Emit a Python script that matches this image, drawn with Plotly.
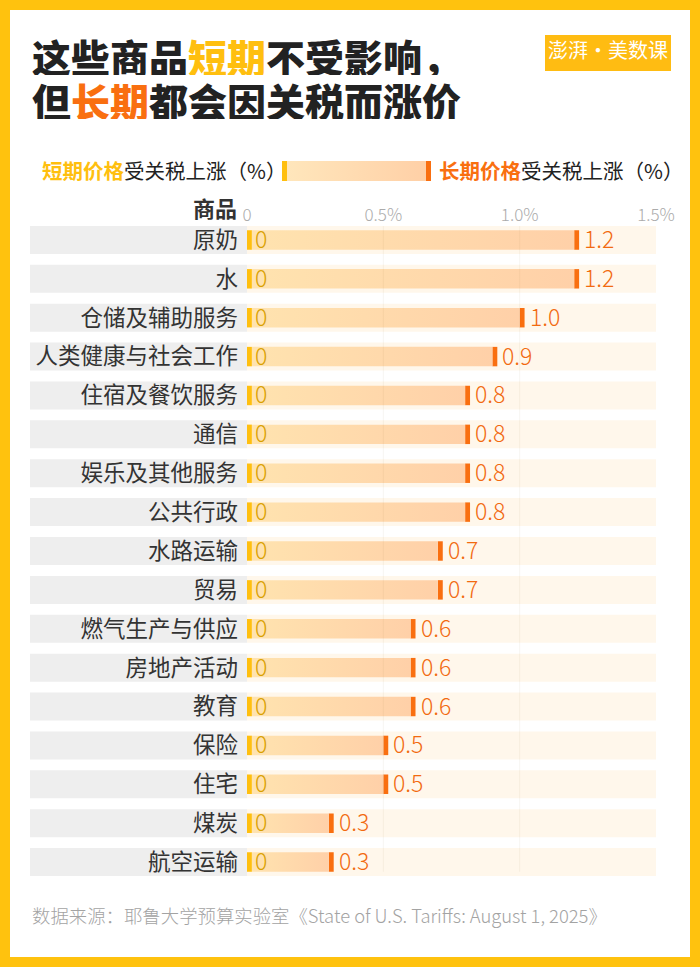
import plotly.graph_objects as go

categories = ["原奶", "水", "仓储及辅助服务", "人类健康与社会工作", "住宿及餐饮服务", "通信", "娱乐及其他服务",
              "公共行政", "水路运输", "贸易", "燃气生产与供应", "房地产活动", "教育", "保险", "住宅", "煤炭", "航空运输"]
short_vals = [0, 0, 0, 0, 0, 0, 0, 0, 0, 0, 0, 0, 0, 0, 0, 0, 0]
long_vals = [1.2, 1.2, 1.0, 0.9, 0.8, 0.8, 0.8, 0.8, 0.7, 0.7, 0.6, 0.6, 0.6, 0.5, 0.5, 0.3, 0.3]
tick_vals = [0, 0.5, 1.0, 1.5]
tick_labels = ["0", "0.5%", "1.0%", "1.5%"]

W, H = 700, 967
YELLOW = "#FFBF0F"
ORANGE = "#F96F10"
FONT = "Noto Sans CJK SC"
MARK = 0.018  # 5px tick at the end of each bar


def px(x):
    return x / W


def py(y):
    return 1 - y / H


def label(x, y, text, size, color="#222222", anchor="left", **kw):
    return dict(xref="paper", yref="paper", x=px(x), y=py(y), text=text, showarrow=False, xanchor=anchor,
                yanchor="middle", align=anchor, font=dict(family=FONT, size=size, color=color, **kw))


rows = list(range(len(categories)))
fig = go.Figure()

# pale track behind each row
fig.add_bar(y=rows, x=[tick_vals[-1]] * len(rows), orientation="h", width=0.72, marker=dict(color="#FFF7EB", line_width=0))

for i, (s, v) in enumerate(zip(short_vals, long_vals)):
    fig.add_scatter(x=[s + MARK, v, v, s + MARK, s + MARK], y=[i - 0.25, i - 0.25, i + 0.25, i + 0.25, i - 0.25],
                    mode="lines", line_width=0, fill="toself",
                    fillgradient=dict(type="horizontal", colorscale=[[0, "#FFE3AF"], [1, "#FFD0A8"]]))

fig.add_bar(y=rows, x=[MARK] * len(rows), base=short_vals, orientation="h", width=0.5, marker=dict(color=YELLOW, line_width=0))
fig.add_bar(y=rows, x=[MARK] * len(rows), base=long_vals, orientation="h", width=0.5, marker=dict(color=ORANGE, line_width=0))

# legend key
fig.add_scatter(x=[0, 1, 1, 0, 0], y=[0, 0, 1, 1, 0], xaxis="x2", yaxis="y2", mode="lines", line_width=0, fill="toself",
                fillgradient=dict(type="horizontal", colorscale=[[0, "#FFE7BC"], [1, "#FFCFA6"]]))

shapes = [
    dict(type="rect", xref="paper", yref="paper", x0=px(10), x1=px(690), y0=py(957), y1=py(10), fillcolor="white",
         line_width=0, layer="below"),
    dict(type="rect", xref="paper", yref="paper", x0=px(545), x1=px(671), y0=py(71), y1=py(35), fillcolor="#FFBC12",
         line_width=0),
    dict(type="rect", xref="paper", yref="paper", x0=px(282), x1=px(287), y0=py(181), y1=py(161), fillcolor=YELLOW,
         line_width=0),
    dict(type="rect", xref="paper", yref="paper", x0=px(426), x1=px(431), y0=py(181), y1=py(161), fillcolor=ORANGE,
         line_width=0),
]
for i in rows:
    shapes.append(dict(type="rect", xref="paper", yref="y", x0=px(30), x1=px(247), y0=i - 0.36, y1=i + 0.36,
                       fillcolor="#EEEEEE", line_width=0, layer="below"))
for t in tick_vals[1:-1]:
    shapes.append(dict(type="line", xref="x", yref="y", x0=t, x1=t, y0=-0.36, y1=len(rows) - 0.75,
                       line=dict(color="rgba(120,90,40,0.06)", width=1), layer="above"))

annotations = [
    dict(label(30, 56, f"这些商品<span style='color:{YELLOW}'>短期</span>不受影响，", 39, weight=900), height=38),
    dict(label(30, 100, f"但<span style='color:{ORANGE}'>长期</span>都会因关税而涨价", 39, weight=900), height=38),
    label(40, 170, f"<b><span style='color:{YELLOW}'>短期价格</span></b>受关税上涨（%）", 20.5),
    label(437, 170, f"<b><span style='color:{ORANGE}'>长期价格</span></b>受关税上涨（%）", 20.5),
    label(239, 207, "<b>商品</b>", 22, "#333333", "right"),
    label(608, 50, "澎湃·美数课", 20, "white", "center"),
    label(30, 915, "数据来源：耶鲁大学预算实验室《State of U.S. Tariffs: August 1, 2025》", 18.4, "#A3A3A3", weight=300),
]
for i, (s, v) in enumerate(zip(short_vals, long_vals)):
    annotations.append(dict(x=s, y=i, xref="x", yref="y", text=f"{s}", showarrow=False, xanchor="left", xshift=6, yshift=2,
                            font=dict(family=FONT, size=23, color="#D9A000", weight=300)))
    annotations.append(dict(x=v, y=i, xref="x", yref="y", text=f"{v:.1f}", showarrow=False, xanchor="left", xshift=8, yshift=2,
                            font=dict(family=FONT, size=23, color="#F26A10", weight=300)))

fig.update_layout(
    width=W, height=H, margin=dict(l=0, r=0, t=0, b=0), paper_bgcolor="#FFC20E", plot_bgcolor="rgba(0,0,0,0)",
    barmode="overlay", showlegend=False, hovermode=False, shapes=shapes, annotations=annotations,
    xaxis=dict(domain=[px(247), px(656)], range=[0, tick_vals[-1]], side="top", tickvals=tick_vals, ticktext=tick_labels,
               showgrid=False, zeroline=False, showline=False, ticks="", automargin=False, ticklabelstandoff=-5,
               tickfont=dict(family=FONT, size=17, color="#ABABAB", weight=300)),
    yaxis=dict(domain=[py(881.5), py(220.5)], range=[len(rows) - 0.5, -0.5], tickvals=rows, ticktext=categories,
               showgrid=False, zeroline=False, showline=False, ticks="", ticklabelstandoff=8, automargin=False,
               tickfont=dict(family=FONT, size=22.5, color="#333333")),
    xaxis2=dict(domain=[px(282), px(431)], range=[0, 1], anchor="y2", visible=False),
    yaxis2=dict(domain=[py(181), py(161)], range=[0, 1], anchor="x2", visible=False),
)

fig.write_html("out.html", config={"displayModeBar": False}, post_script="document.body.style.margin='0';document.body.style.overflow='hidden';")
